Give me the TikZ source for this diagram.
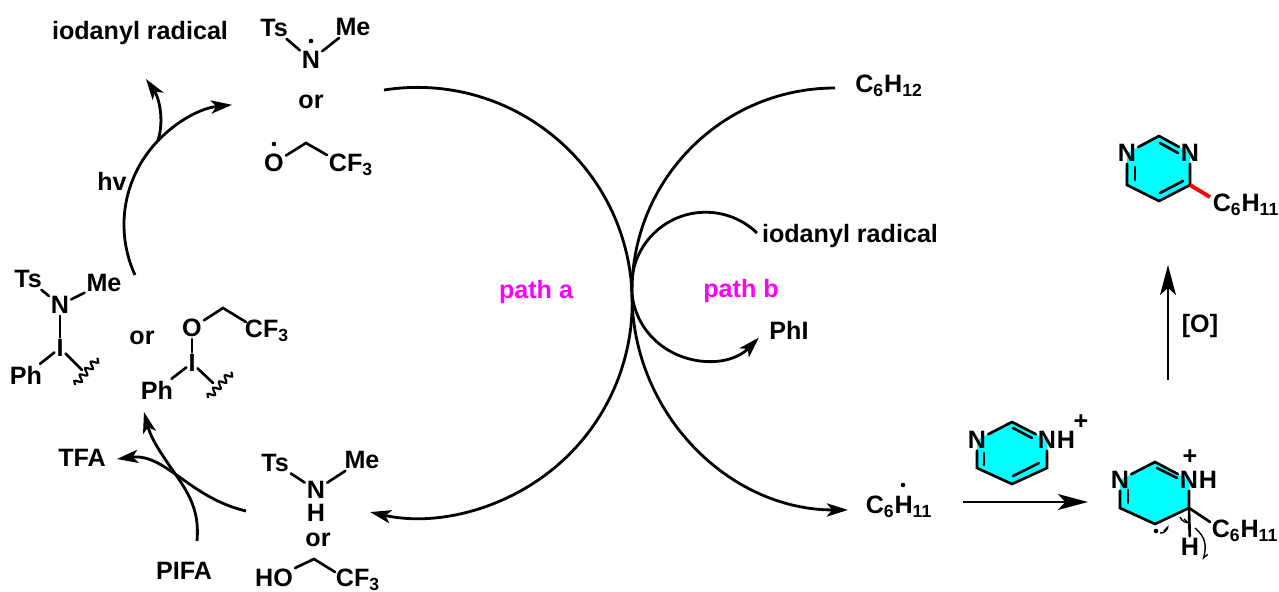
\documentclass[tikz,border=0pt]{standalone}
\usepackage{fontspec}
\setmainfont{Liberation Sans}
\usepackage{tikz}
\usetikzlibrary{arrows.meta, positioning, calc, decorations.pathmorphing}
\definecolor{ringcyan}{RGB}{0,255,255}
\definecolor{pathpink}{RGB}{255,0,255}
\definecolor{newbond}{RGB}{255,0,0}
\tikzset{
    atomlabel/.style={inner sep=1pt, font=\bfseries\fontsize{14.3}{16}\selectfont},
    pathlabel/.style={atomlabel, text=pathpink},
    raddot/.style={circle, fill=black, inner sep=0pt, minimum size=2.6pt},
    chembond/.style={line width=1.5pt, line cap=round},
    ringfill/.style={fill=ringcyan, draw=none},
    wavybond/.style={line width=1.2pt, decorate, decoration={snake, amplitude=1.8pt, segment length=4.8pt}},
    cyclearrow/.style={-{Stealth[length=12pt, width=7.5pt, inset=3pt]}, line width=1.6pt},
    cycleline/.style={line width=1.6pt},
    rxnarrow/.style={-{Stealth[length=17pt, width=9pt, inset=4pt]}, line width=1.6pt},
    fishhook/.style={-{Straight Barb[harpoon, length=2.5pt, width=3.5pt]}, line width=0.8pt}
}
\begin{document}
\begin{tikzpicture}[x=0.02cm, y=-0.02cm]
\useasboundingbox (0,0) rectangle (1279,592);

\fill[ringfill] (977,440) -- (1012,422) -- (1047,440) -- (1047,468) -- (1012,484) -- (977,468) -- cycle;
\fill[ringfill] (1120,480) -- (1155,462) -- (1189,480) -- (1189,508) -- (1155,524) -- (1120,508) -- cycle;
\fill[ringfill] (1127,153) -- (1159,136) -- (1190,153) -- (1190,185) -- (1159,201) -- (1127,185) -- cycle;

\node[atomlabel] (topiod) at (140,33) {iodanyl radical};
\node[atomlabel] (topts) at (274,28) {Ts};
\node[atomlabel] (topn) at (311,60) {N};
\node[atomlabel] (topme) at (353,27) {Me};
\node[raddot] (topndot) at (311,41) {};
\node[atomlabel] (topor) at (311,102) {or};
\node[atomlabel] (topo) at (274,163) {O};
\node[raddot] (topodot) at (274,144) {};
\coordinate (topbend) at (306,143);
\node[atomlabel] (topcf) at (351,165) {CF\textsubscript{3}};
\coordinate (topcfend) at (327,155);

\node[atomlabel] (midts) at (28,279) {Ts};
\node[atomlabel] (midn) at (60,305) {N};
\node[atomlabel] (midme) at (104,283) {Me};
\node[atomlabel] (midi) at (60,348) {I};
\node[atomlabel] (midph) at (26,375) {Ph};
\coordinate (midwa) at (82,370);
\coordinate (midwb) at (75,385);
\coordinate (midwc) at (98,358);
\node[atomlabel] (midor) at (142,338) {or};
\node[atomlabel] (mido) at (192,328) {O};
\coordinate (midbend) at (223,308);
\node[atomlabel] (midcf) at (267,331) {CF\textsubscript{3}};
\coordinate (midcfend) at (246,322);
\node[atomlabel] (midii) at (192,363) {I};
\node[atomlabel] (midpp) at (157,390) {Ph};
\coordinate (midxa) at (213,383);
\coordinate (midxb) at (208,398);
\coordinate (midxc) at (232,372);

\node[atomlabel] (tfa) at (82,458) {TFA};
\node[atomlabel] (pifa) at (184,571) {PIFA};
\node[atomlabel] (lowts) at (275,463) {Ts};
\node[atomlabel] (lown) at (316,490) {N};
\node[atomlabel] (lowh) at (316,513) {H};
\node[atomlabel] (lowme) at (362,460) {Me};
\node[atomlabel] (lowor) at (318,540) {or};
\node[atomlabel] (lowho) at (274,578) {HO};
\coordinate (lowbend) at (314,559);
\node[atomlabel] (lowcf) at (358,579.5) {CF\textsubscript{3}};
\coordinate (lowcfend) at (335,572);

\node[pathlabel] (patha) at (536,292) {path a};
\node[pathlabel] (pathb) at (741,291) {path b};
\node[atomlabel] (hexene) at (889,86) {C\textsubscript{6}H\textsubscript{12}};
\node[atomlabel] (rightiod) at (850,236) {iodanyl radical};
\node[atomlabel] (phi) at (789,330) {PhI};
\node[atomlabel] (hexyl) at (899,507) {C\textsubscript{6}H\textsubscript{11}};
\node[raddot] (hexyldot) at (903,485) {};
\node[atomlabel] (hvlabel) at (112,181) {hv};
\node[atomlabel] (oxlabel) at (1200,326) {[O]};

\node[atomlabel] (rean) at (977,440) {N};
\node[atomlabel] (reanh) at (1047,440) {N};
\node[atomlabel, inner sep=0pt, right=-1pt of reanh] (reah) {H};
\node[atomlabel] (reaplus) at (1081,422) {+};
\coordinate (reat) at (1012,422);
\coordinate (rear) at (1047,468);
\coordinate (reab) at (1012,484);
\coordinate (real) at (977,468);

\node[atomlabel] (addn) at (1120,480) {N};
\node[atomlabel] (addnh) at (1189,480) {N};
\node[atomlabel, inner sep=0pt, right=-1pt of addnh] (addh) {H};
\node[atomlabel] (addplus) at (1190,457) {+};
\coordinate (addt) at (1155,462);
\coordinate (addr) at (1189,508);
\coordinate (addb) at (1155,524);
\coordinate (addl) at (1120,508);
\node[atomlabel] (addhh) at (1190,547) {H};
\node[atomlabel] (addchain) at (1245,531) {C\textsubscript{6}H\textsubscript{11}};
\coordinate (addchainend) at (1210,522);
\node[raddot] (adddot) at (1156,531) {};

\node[atomlabel] (pron) at (1127,153) {N};
\node[atomlabel] (pronn) at (1190,153) {N};
\coordinate (prot) at (1159,136);
\coordinate (pror) at (1190,185);
\coordinate (prob) at (1159,201);
\coordinate (prol) at (1127,185);
\node[atomlabel] (prochain) at (1246,205) {C\textsubscript{6}H\textsubscript{11}};
\coordinate (prochainend) at (1210,197);

\draw[chembond] (topts) -- (topn);
\draw[chembond] (topn) -- (topme);
\draw[chembond] (topo) -- (topbend) -- (topcfend);
\draw[chembond] (midts) -- (midn);
\draw[chembond] (midn) -- (midme);
\draw[chembond] (midn) -- (midi);
\draw[chembond] (midi) -- (midph);
\draw[chembond] (midi) -- (midwa);
\draw[wavybond] (midwb) -- (midwc);
\draw[chembond] (mido) -- (midbend) -- (midcfend);
\draw[chembond] (mido) -- (midii);
\draw[chembond] (midii) -- (midpp);
\draw[chembond] (midii) -- (midxa);
\draw[wavybond] (midxb) -- (midxc);
\draw[chembond] (lowts) -- (lown);
\draw[chembond] (lown) -- (lowme);
\draw[chembond] (lowho) -- (lowbend) -- (lowcfend);

\draw[chembond] (rean) -- (reat) -- (reanh) -- (rear) -- (reab) -- (real) -- (rean);
\draw[chembond] (984,453) -- (984,465);
\draw[chembond] (1013,428) -- (1032,438);
\draw[chembond] (1013,476) -- (1039,463);

\draw[chembond] (addn) -- (addt) -- (addnh) -- (addr) -- (addb) -- (addl) -- (addn);
\draw[chembond] (1128,490) -- (1128,503);
\draw[chembond] (1157,468) -- (1177,478);
\draw[chembond] (addr) -- (addhh);
\draw[chembond] (addr) -- (addchainend);

\draw[chembond] (pron) -- (prot) -- (pronn) -- (pror) -- (prob) -- (prol) -- (pron);
\draw[chembond] (1135,167) -- (1135,180);
\draw[chembond] (1160,143) -- (1178,153);
\draw[chembond] (1160,193) -- (1183,181);
\draw[chembond, newbond, line width=2.2pt, line cap=butt] (pror) -- (prochainend);

\coordinate (arcastart) at (384,90);
\coordinate (arcbstart) at (835,88);
\coordinate (arcbmid) at (632,294);
\coordinate (iodstart) at (757,233);
\coordinate (hvstart) at (135,275);
\coordinate (hvsplit) at (157.8,141.1);
\coordinate (hvup) at (146,79);
\coordinate (tfastart) at (246,511);
\coordinate (tfacross) at (176,475);
\coordinate (tfaend) at (117,459);
\coordinate (pifastart) at (197,541);
\coordinate (pifaend) at (144,412);
\coordinate (oxstart) at (1168,380);
\coordinate (oxend) at (1168,265);
\coordinate (hexstart) at (963,502);
\coordinate (hexend) at (1088,502);

\draw[cyclearrow] (arcastart) arc[start angle=98.9, end angle=-102.7, radius=4.3cm];
\draw[cycleline] (arcbstart) arc[start angle=90, end angle=180, radius=4.06cm];
\draw[cyclearrow] (arcbmid) arc[start angle=180, end angle=270, radius=4.32cm];
\draw[cyclearrow] (iodstart) arc[start angle=46, end angle=316, radius=1.48cm];
\draw[cyclearrow] (hvstart) arc[start angle=204.7, end angle=95.9, radius=2.41cm];
\draw[cyclearrow] (hvsplit) to[out=72, in=-55, looseness=0.9] (hvup);
\draw[cyclearrow] (tfastart) .. controls (190,498) and (165,453) .. (tfaend);
\draw[cycleline] (pifastart) to[out=85, in=-55] (tfacross);
\draw[cyclearrow] (tfacross) to[out=125, in=-75] (pifaend);
\draw[rxnarrow] (hexstart) -- (hexend);
\draw[rxnarrow] (oxstart) -- (oxend);

\draw[fishhook] (1160,533) to[out=-10, in=-100] (1168,525);
\draw[fishhook] (1180,517) to[out=-70, in=170] (1190,523);
\draw[fishhook] (1195,528) to[out=-40, in=75, looseness=1.1] (1203,560);
\end{tikzpicture}
\end{document}
